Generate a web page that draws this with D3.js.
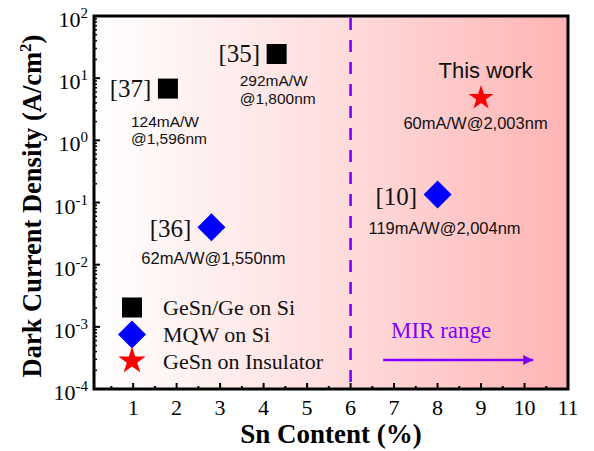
<!DOCTYPE html>
<html>
<head>
<meta charset="utf-8">
<script src="https://cdn.jsdelivr.net/npm/d3@7"></script>
<style>
  html, body { margin: 0; padding: 0; background: #fff; }
  svg { display: block; }
</style>
</head>
<body>
<svg id="chart" width="594" height="451"></svg>
<script>
// ---------------- data ----------------
const snContent   = [1.8, 4.3, 2.8, 8.0, 9.0];
const darkCurrent = [6.8, 24.5, 0.040, 0.135, 4.8];
const groupOf     = ["GeSn/Ge on Si", "GeSn/Ge on Si", "MQW on Si", "MQW on Si", "GeSn on Insulator"];
const refLabels   = ["[37]", "[35]", "[36]", "[10]", "This work"];
const respLabels  = [["124mA/W", "@1,596nm"], ["292mA/W", "@1,800nm"], ["62mA/W@1,550nm"], ["119mA/W@2,004nm"], ["60mA/W@2,003nm"]];
const legendItems = ["GeSn/Ge on Si", "MQW on Si", "GeSn on Insulator"];
const xTicks      = [1, 2, 3, 4, 5, 6, 7, 8, 9, 10, 11];
const yExponents  = [2, 1, 0, -1, -2, -3, -4];
const mirBoundary = 6;
const mirArrow    = [6.75, 10.2];   // Sn content span of the arrow
const mirLabel    = "MIR range";

// ---------------- layout ----------------
const M = { left: 94, top: 16, right: 568, bottom: 389 };
const svg = d3.select("#chart");
const serif = "'Liberation Serif', 'Times New Roman', serif";
const sans  = "'Liberation Sans', Arial, sans-serif";

const x = d3.scaleLinear().domain([0.1, 11]).range([M.left, M.right]);
const y = d3.scaleLog().domain([1e-4, 1e2]).range([M.bottom, M.top]);

// background gradient
const defs = svg.append("defs");
const grad = defs.append("linearGradient").attr("id", "bg").attr("x1", "0").attr("x2", "1").attr("y1", "0").attr("y2", "0");
grad.append("stop").attr("offset", "0").attr("stop-color", "#ffffff");
grad.append("stop").attr("offset", "0.5").attr("stop-color", "#ffdede");
grad.append("stop").attr("offset", "1").attr("stop-color", "#ffb4b4");
svg.append("rect").attr("x", M.left).attr("y", M.top)
  .attr("width", M.right - M.left).attr("height", M.bottom - M.top)
  .attr("fill", "url(#bg)");

// MIR dashed boundary
svg.append("line")
  .attr("x1", x(mirBoundary)).attr("x2", x(mirBoundary))
  .attr("y1", M.top + 2).attr("y2", M.bottom)
  .attr("stroke", "#8000ff").attr("stroke-width", 2.6)
  .attr("stroke-dasharray", "12,10");

// ticks (inward)
const tickG = svg.append("g").attr("stroke", "#000").attr("stroke-width", 2);
xTicks.forEach(t => {
  tickG.append("line").attr("x1", x(t)).attr("x2", x(t)).attr("y1", M.bottom).attr("y2", M.bottom - 6);
});
d3.range(0.5, 11, 1).forEach(t => {
  tickG.append("line").attr("x1", x(t)).attr("x2", x(t)).attr("y1", M.bottom).attr("y2", M.bottom - 3);
});
yExponents.forEach(e => {
  tickG.append("line").attr("x1", M.left).attr("x2", M.left + 6).attr("y1", y(Math.pow(10, e))).attr("y2", y(Math.pow(10, e)));
});
yExponents.slice(1).forEach(e => {
  d3.range(2, 10).forEach(m => {
    const v = m * Math.pow(10, e);
    tickG.append("line").attr("x1", M.left).attr("x2", M.left + 3).attr("y1", y(v)).attr("y2", y(v)).attr("stroke-width", 1.5);
  });
});

// frame
svg.append("rect").attr("x", M.left).attr("y", M.top)
  .attr("width", M.right - M.left).attr("height", M.bottom - M.top)
  .attr("fill", "none").attr("stroke", "#000").attr("stroke-width", 3);

// x tick labels
svg.append("g").selectAll("text").data(xTicks).join("text")
  .attr("x", d => x(d)).attr("y", 415)
  .attr("text-anchor", "middle")
  .attr("font-family", serif).attr("font-size", 22)
  .text(d => d);

// y tick labels
const yl = svg.append("g").selectAll("text").data(yExponents).join("text")
  .attr("x", 88).attr("y", d => y(Math.pow(10, d)) + 11)
  .attr("text-anchor", "end")
  .attr("font-family", serif).attr("font-size", 22);
yl.append("tspan").text("10");
yl.append("tspan").attr("dy", -9).attr("font-size", 15).text(d => d < 0 ? "-" + Math.abs(d) : d);

// axis titles
svg.append("text")
  .attr("x", 331).attr("y", 443).attr("text-anchor", "middle")
  .attr("font-family", serif).attr("font-size", 27).attr("font-weight", "bold")
  .text("Sn Content (%)");
const yt = svg.append("text")
  .attr("transform", "translate(41,206) rotate(-90)")
  .attr("text-anchor", "middle")
  .attr("font-family", serif).attr("font-size", 26.5).attr("font-weight", "bold");
yt.append("tspan").text("Dark Current Density (A/cm");
yt.append("tspan").attr("dy", -10).attr("font-size", 17).text("2");
yt.append("tspan").attr("dy", 10).text(")");

// marker styles
const markerStyle = {
  "GeSn/Ge on Si":     { type: d3.symbolSquare, size: 400, fill: "#000000", rot: 0 },
  "MQW on Si":         { type: d3.symbolSquare, size: 392, fill: "#0000ff", rot: 45 },
  "GeSn on Insulator": { type: d3.symbolStar,   size: 190, fill: "#ff0000", rot: 0 }
};

// annotation offsets (px, relative to marker centre)
const annot = [
  { ref: [-16.5, 8.5, "end"], resp: [-37, 38, "start"], lh: 17.5 },
  { ref: [-16.5, 8, "end"],   resp: [-37, 32.5, "start"], lh: 17.5 },
  { ref: [-20, 9.5, "end"],   resp: [2, 37, "middle"],    lh: 17.5 },
  { ref: [-20.5, 10.5, "end"], resp: [7, 39.5, "middle"], lh: 17.5 },
  { ref: [4.5, -20, "middle"], resp: [-5.5, 31, "middle"], lh: 17.5, sans: true }
];

// points
const pts = svg.append("g");
snContent.forEach((sx, i) => {
  const st = markerStyle[groupOf[i]];
  const cx = x(sx), cy = y(darkCurrent[i]);
  pts.append("path")
    .attr("d", d3.symbol().type(st.type).size(st.size)())
    .attr("transform", `translate(${cx},${cy}) rotate(${st.rot})`)
    .attr("fill", st.fill);
  const a = annot[i];
  pts.append("text")
    .attr("x", cx + a.ref[0]).attr("y", cy + a.ref[1])
    .attr("text-anchor", a.ref[2])
    .attr("font-family", a.sans ? sans : serif)
    .attr("font-size", a.sans ? 22 : 25)
    .attr("fill", "#111")
    .text(refLabels[i]);
  respLabels[i].forEach((line, k) => {
    pts.append("text")
      .attr("x", cx + a.resp[0]).attr("y", cy + a.resp[1] + k * a.lh)
      .attr("text-anchor", a.resp[2])
      .attr("font-family", sans).attr("font-size", respLabels[i].length > 1 ? 15.5 : 16.5)
      .attr("fill", "#111")
      .text(line);
  });
});

// MIR arrow + label
const arrowY = 360;
defs.append("marker").attr("id", "ah")
  .attr("viewBox", "0 0 10 10").attr("refX", 10).attr("refY", 5)
  .attr("markerWidth", 16).attr("markerHeight", 10)
  .attr("markerUnits", "userSpaceOnUse")
  .attr("orient", "auto")
  .append("path").attr("d", "M0,0 L10,5 L0,10 Z").attr("fill", "#8000ff");
svg.append("line")
  .attr("x1", x(mirArrow[0])).attr("x2", x(mirArrow[1]))
  .attr("y1", arrowY).attr("y2", arrowY)
  .attr("stroke", "#8000ff").attr("stroke-width", 2.6)
  .attr("marker-end", "url(#ah)");
svg.append("text")
  .attr("x", 391).attr("y", 338)
  .attr("font-family", serif).attr("font-size", 23)
  .attr("fill", "#8000ff")
  .text(mirLabel);

// legend
const lg = svg.append("g");
const legendY = [307.5, 334.5, 361];
legendItems.forEach((name, i) => {
  const st = markerStyle[name];
  lg.append("path")
    .attr("d", d3.symbol().type(st.type).size(name === "GeSn on Insulator" ? 230 : st.size)())
    .attr("transform", `translate(132,${legendY[i]}) rotate(${st.rot})`)
    .attr("fill", st.fill);
  lg.append("text")
    .attr("x", 163).attr("y", legendY[i] + 7.5)
    .attr("font-family", serif).attr("font-size", 22)
    .attr("fill", "#111")
    .text(name);
});
</script>
</body>
</html>
